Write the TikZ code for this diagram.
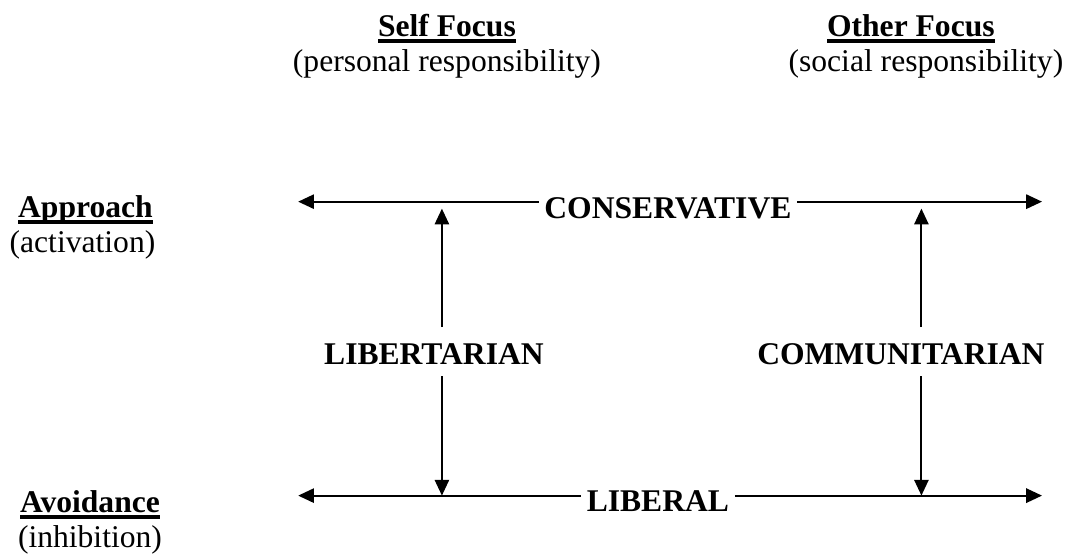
\documentclass[tikz,border=0pt]{standalone}
\usepackage{fontspec}
\setmainfont{Liberation Serif}
\usetikzlibrary{arrows.meta,positioning}
% bold heading with a heavy rule under it
\newcommand{\headul}[1]{\setbox0\hbox{\bfseries #1}\rlap{\rule[-2.3pt]{\wd0}{1.3pt}}\box0}

\begin{document}
\begin{tikzpicture}[every node/.style={font=\fontsize{12}{13.2}\selectfont,inner sep=0pt,anchor=base},
  ideo/.style={font=\fontsize{12}{13.2}\selectfont\bfseries,inner xsep=2pt},
  vlab/.style={ideo,text height=12pt,text depth=2.2pt,inner ysep=2pt},
  arr/.style={-{Triangle[length=6pt,width=5.4pt]},line width=0.8pt}]
  \useasboundingbox (0,0) rectangle (14.31,7.47);
  % arrow tips
  \coordinate (tl) at (3.98,4.778);
  \coordinate (tr) at (13.91,4.778);
  \coordinate (bl) at (3.98,0.854);
  \coordinate (br) at (13.91,0.854);
  \coordinate (lt) at (5.899,4.685);
  \coordinate (lb) at (5.899,0.854);
  \coordinate (rt) at (12.30,4.685);
  \coordinate (rb) at (12.30,0.854);
  % column and row headings
  \node (self) at (5.966,6.981) {\headul{Self Focus}};
  \node (selfnote) at ([yshift=-13.2pt]self.base) {(personal responsibility)};
  \node (other) at (12.159,6.981) {\headul{Other Focus}};
  \node (othernote) at ([yshift=-13.2pt]12.36,6.981) {(social responsibility)};
  \node (appr) at (1.141,4.565) {\headul{Approach}};
  \node (apprnote) at ([yshift=-13.2pt]1.101,4.565) {(activation)};
  \node (avoid) at (1.201,0.627) {\headul{Avoidance}};
  \node (avoidnote) at ([yshift=-13.2pt]avoid.base) {(inhibition)};
  % the four orientations
  \node[ideo] (cons) at (8.916,4.551) {CONSERVATIVE};
  \node[ideo] (liberal) at (8.782,0.641) {LIBERAL};
  \node[vlab] (libert) at (5.793,2.603) {LIBERTARIAN};
  \node[vlab] (commun) at (12.026,2.603) {COMMUNITARIAN};
  \draw[arr] (cons.west |- tl) -- (tl);
  \draw[arr] (cons.east |- tr) -- (tr);
  \draw[arr] (liberal.west |- bl) -- (bl);
  \draw[arr] (liberal.east |- br) -- (br);
  \draw[arr] (libert.north -| lt) -- (lt);
  \draw[arr] (libert.south -| lb) -- (lb);
  \draw[arr] (commun.north -| rt) -- (rt);
  \draw[arr] (commun.south -| rb) -- (rb);
\end{tikzpicture}
\end{document}
